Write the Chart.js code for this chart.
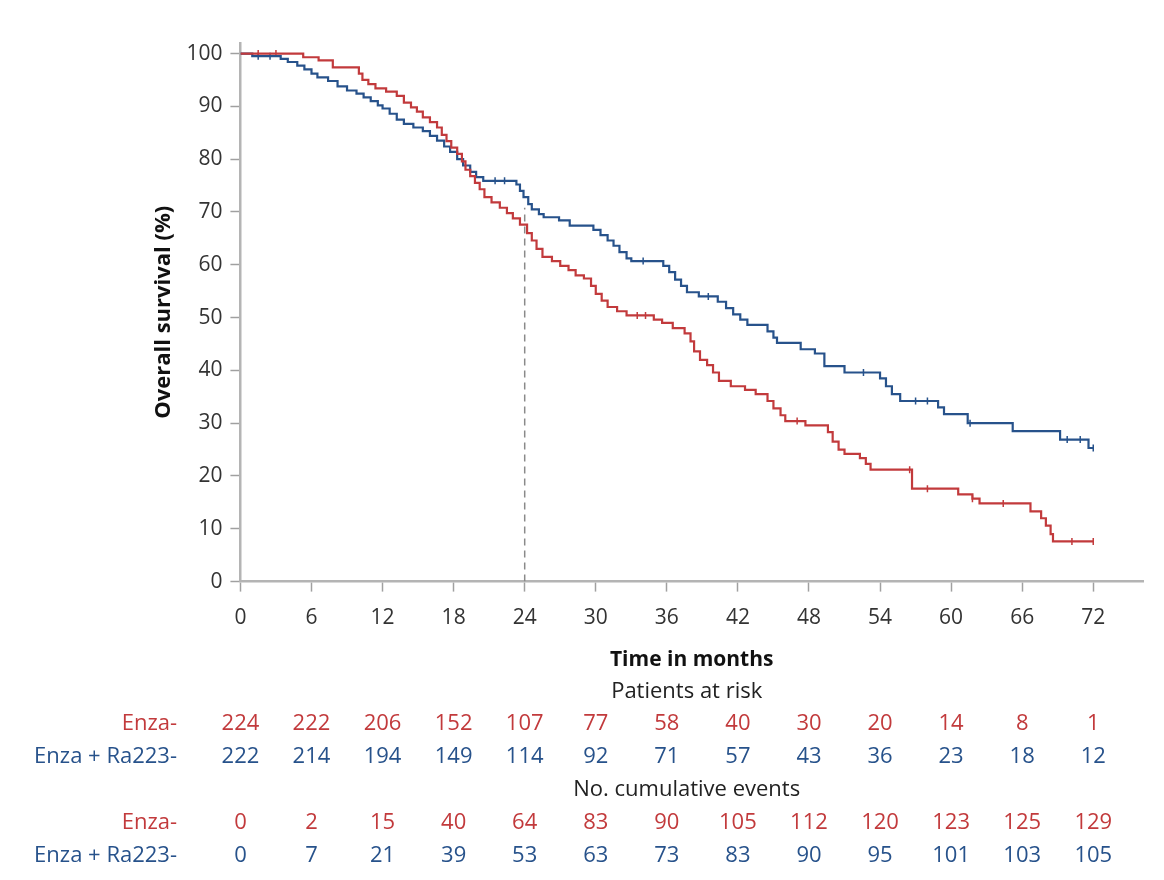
<!DOCTYPE html>
<html>
<head>
<meta charset="utf-8">
<script src="https://cdn.jsdelivr.net/npm/chart.js@4.4.1/dist/chart.umd.min.js"></script>
<style>
  body { margin: 0; background: #fff; }
  #wrap { width: 1164px; height: 880px; position: relative; }
</style>
</head>
<body>
<div id="wrap"><canvas id="grafico"></canvas></div>
<script>
// Kaplan-Meier steps (months, survival %)
const enzaTempo = [0, 5.3, 6.6, 7.8, 10.0, 10.3, 10.8, 11.4, 12.3, 13.2, 13.8, 14.4, 14.9, 15.4, 16.0, 16.6, 17.0, 17.4, 17.8, 18.3, 18.7, 19.0, 19.4, 19.8, 20.2, 20.6, 21.2, 21.9, 22.5, 23.0, 23.6, 24.2, 24.6, 25.0, 25.5, 26.3, 27.0, 27.7, 28.3, 29.0, 29.6, 30.0, 30.5, 31.0, 31.8, 32.6, 34.9, 35.6, 36.5, 37.5, 38.0, 38.3, 38.8, 39.4, 39.9, 40.4, 41.4, 42.6, 43.5, 44.5, 45.0, 45.6, 46.0, 47.7, 49.6, 50.0, 50.5, 51.0, 52.3, 52.8, 53.2, 56.7, 60.6, 61.8, 62.4, 66.7, 67.6, 68.0, 68.4, 68.6, 72.0]
const enzaSobrev = [100, 99.3, 98.7, 97.4, 96.2, 95.0, 94.2, 93.4, 92.8, 92.0, 90.7, 89.8, 89.0, 87.9, 87.0, 86.0, 84.6, 83.4, 82.2, 81.0, 79.6, 78.0, 76.8, 75.5, 74.3, 72.8, 71.8, 70.8, 69.8, 68.8, 67.6, 66.0, 64.6, 63.0, 61.5, 60.7, 59.8, 59.0, 58.0, 57.4, 56.0, 54.5, 53.2, 52.0, 51.2, 50.4, 49.6, 49.0, 48.0, 47.0, 45.5, 43.6, 42.0, 41.0, 39.6, 38.0, 37.0, 36.3, 35.5, 34.2, 32.8, 31.5, 30.4, 29.6, 28.3, 26.5, 25.0, 24.2, 23.4, 22.3, 21.2, 17.6, 16.5, 15.7, 14.8, 13.3, 12.0, 10.6, 9.0, 7.6, 7.6]

const raTempo = [0, 1.0, 3.4, 4.0, 4.8, 5.4, 6.0, 6.5, 7.4, 8.2, 9.0, 9.8, 10.4, 11.0, 11.6, 12.0, 12.6, 13.2, 13.8, 14.6, 15.4, 16.0, 16.6, 17.2, 17.7, 18.3, 18.8, 19.4, 19.9, 20.5, 23.3, 23.6, 23.9, 24.3, 24.6, 25.2, 25.6, 26.9, 27.8, 29.8, 30.4, 31.0, 31.5, 32.0, 32.6, 33.0, 35.7, 36.2, 36.7, 37.2, 37.7, 38.7, 40.3, 41.0, 41.6, 42.2, 42.8, 44.5, 45.0, 45.3, 47.3, 48.5, 49.3, 51.0, 54.0, 54.5, 55.0, 55.7, 58.9, 59.4, 61.4, 65.2, 69.2, 71.6, 72.0]
const raSobrev = [100, 99.5, 99.0, 98.4, 97.7, 97.0, 96.2, 95.5, 94.8, 93.8, 93.0, 92.4, 91.7, 91.0, 90.2, 89.6, 88.6, 87.5, 86.7, 86.0, 85.3, 84.4, 83.5, 82.4, 81.4, 80.0, 78.8, 77.6, 76.6, 75.9, 75.2, 74.0, 72.8, 71.5, 70.5, 69.6, 69.0, 68.4, 67.4, 66.6, 65.6, 64.6, 63.6, 62.4, 61.2, 60.7, 59.8, 58.6, 57.2, 56.0, 54.8, 54.0, 53.0, 51.8, 50.6, 49.6, 48.6, 47.4, 46.2, 45.2, 44.0, 43.2, 40.8, 39.6, 38.5, 37.0, 35.5, 34.2, 33.0, 31.7, 30.0, 28.5, 26.9, 25.3, 25.3]

// censoring ticks (months)
const enzaCensura = [1.5, 3.0, 33.5, 34.2, 47.0, 56.5, 58.0, 61.8, 64.4, 70.2, 72.0]
const raCensura = [1.5, 2.5, 21.5, 22.3, 34.0, 39.5, 52.6, 57.0, 58.0, 61.6, 69.8, 70.9, 72.0]

const marco = [24, 70.8] // dashed landmark line: month, top %

// axis ticks and numbers-at-risk table
const meses = [0, 6, 12, 18, 24, 30, 36, 42, 48, 54, 60, 66, 72]
const percentuais = [0, 10, 20, 30, 40, 50, 60, 70, 80, 90, 100]
const enzaRisco = [224, 222, 206, 152, 107, 77, 58, 40, 30, 20, 14, 8, 1]
const raRisco = [222, 214, 194, 149, 114, 92, 71, 57, 43, 36, 23, 18, 12]
const enzaEventos = [0, 2, 15, 40, 64, 83, 90, 105, 112, 120, 123, 125, 129]
const raEventos = [0, 7, 21, 39, 53, 63, 73, 83, 90, 95, 101, 103, 105]

const vermelho = '#c23a3c'
const azul = '#27528b'
const fonte = '"Open Sans", "Noto Sans", sans-serif'

const pontos = (t, s) => t.map((x, i) => ({ x: x, y: s[i] }))
const valorEm = (t, s, x) => {
    let v = s[0]
    for (let i = 0; i < t.length; i++) { if (t[i] <= x) v = s[i] }
    return v
}
const censuras = (c, t, s) => c.map(x => ({ x: x, y: valorEm(t, s, x) }))

const tabela = {
    id: 'tabela',
    afterDraw(chart) {
        const ctx = chart.ctx
        const xs = chart.scales.x
        const base = chart.chartArea.bottom
        const meio = (chart.chartArea.left + chart.chartArea.right) / 2 - 5
        ctx.save()
        ctx.font = '22px ' + fonte
        ctx.textBaseline = 'middle'
        ctx.textAlign = 'center'
        ctx.fillStyle = '#222'
        ctx.fillText('Patients at risk', meio, base + 110)
        ctx.fillText('No. cumulative events', meio, base + 208)

        const linhas = [
            ['Enza-', enzaRisco, vermelho, base + 142],
            ['Enza + Ra223-', raRisco, azul, base + 175],
            ['Enza-', enzaEventos, vermelho, base + 241],
            ['Enza + Ra223-', raEventos, azul, base + 274]
        ]
        linhas.forEach(([rotulo, vals, cor, y]) => {
            ctx.fillStyle = cor
            ctx.textAlign = 'right'
            ctx.fillText(rotulo, 177, y)
            ctx.textAlign = 'center'
            vals.forEach((v, i) => ctx.fillText(String(v), xs.getPixelForValue(meses[i]), y))
        })
        ctx.restore()
    }
}

const grafico = new Chart(document.getElementById('grafico'), {
    type: 'line',
    data: {
        datasets: [{
            label: 'Enza',
            data: pontos(enzaTempo, enzaSobrev),
            borderColor: vermelho,
            borderWidth: 2.2,
            stepped: 'before',
            pointRadius: 0
        }, {
            label: 'Enza + Ra223',
            data: pontos(raTempo, raSobrev),
            borderColor: azul,
            borderWidth: 2.2,
            stepped: 'before',
            pointRadius: 0
        }, {
            data: censuras(enzaCensura, enzaTempo, enzaSobrev),
            showLine: false,
            pointStyle: 'line',
            rotation: 90,
            pointRadius: 3.5,
            borderColor: vermelho,
            borderWidth: 1.5
        }, {
            data: censuras(raCensura, raTempo, raSobrev),
            showLine: false,
            pointStyle: 'line',
            rotation: 90,
            pointRadius: 3.5,
            borderColor: azul,
            borderWidth: 1.5
        }, {
            data: [{ x: marco[0], y: 0 }, { x: marco[0], y: marco[1] }],
            borderColor: '#8a8a8a',
            borderWidth: 1.5,
            borderDash: [7, 5],
            pointRadius: 0
        }]
    },
    options: {
        responsive: true,
        maintainAspectRatio: false,
        animation: false,
        events: [],
        layout: { padding: { top: 43, right: 21, bottom: 203, left: 148 } },
        plugins: { legend: { display: false }, tooltip: { enabled: false } },
        scales: {
            x: {
                type: 'linear',
                min: 0,
                max: 76.2,
                afterBuildTicks: s => { s.ticks = meses.map(m => ({ value: m })) },
                ticks: { color: '#333', padding: 14, font: { family: fonte, size: 21 } },
                grid: { drawOnChartArea: false, tickLength: 10, color: '#a0a0a0', tickWidth: 1.5 },
                border: { color: '#b4b4b4', width: 2.5 },
                title: { display: true, text: 'Time in months', color: '#111', padding: { top: 3, bottom: 4 }, font: { family: fonte, size: 21, weight: 'bold' } }
            },
            y: {
                min: 0,
                max: 102,
                afterBuildTicks: s => { s.ticks = percentuais.map(p => ({ value: p })) },
                ticks: { color: '#333', padding: 8, font: { family: fonte, size: 21 } },
                grid: { drawOnChartArea: false, tickLength: 10, color: '#a0a0a0', tickWidth: 1.5 },
                border: { color: '#b4b4b4', width: 2.5 },
                title: { display: true, text: 'Overall survival (%)', color: '#111', padding: { top: 3, bottom: 1 }, font: { family: fonte, size: 22, weight: 'bold' } }
            }
        }
    },
    plugins: [tabela]
});
</script>
</body>
</html>
